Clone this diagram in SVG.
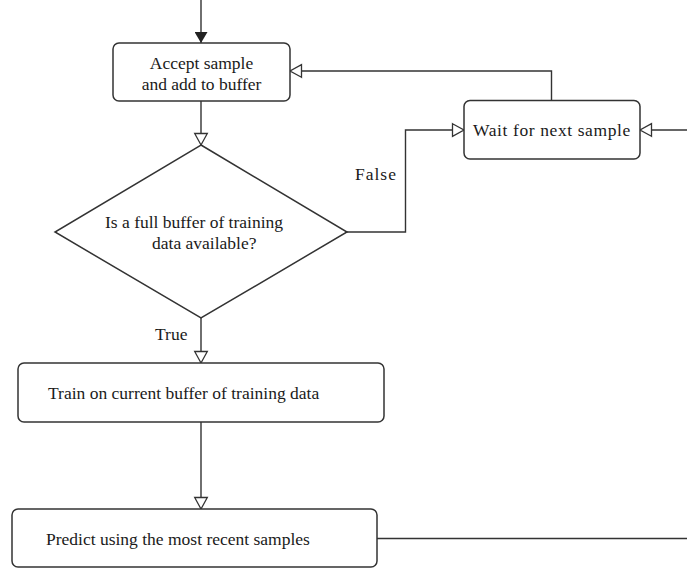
<svg xmlns="http://www.w3.org/2000/svg" width="687" height="568" viewBox="0 0 687 568">
<style>
.box{fill:#fff;stroke:#333;stroke-width:1.5}
.ln{fill:none;stroke:#333;stroke-width:1.4}
text{font-family:"Liberation Serif","Times New Roman",serif;font-size:17.5px;fill:#1a1a1a}
</style>
<defs>
<marker id="open" viewBox="0 0 12 14" refX="12" refY="7" markerWidth="12" markerHeight="14" orient="auto" markerUnits="userSpaceOnUse" overflow="visible">
<path d="M0.5,0.7 L12,7 L0.5,13.3 Z" fill="#fff" stroke="#333" stroke-width="1.3"/>
</marker>
<marker id="filled" viewBox="0 0 11 13" refX="11" refY="6.5" markerWidth="11" markerHeight="13" orient="auto" markerUnits="userSpaceOnUse">
<path d="M0,0 L11,6.5 L0,13 Z" fill="#222"/>
</marker>
</defs>
<g id="connectors">
<line class="ln" x1="201" y1="0" x2="201" y2="43" marker-end="url(#filled)"/>
<line class="ln" x1="201" y1="101" x2="201" y2="145" marker-end="url(#open)"/>
<line class="ln" x1="201" y1="318" x2="201" y2="363" marker-end="url(#open)"/>
<line class="ln" x1="201" y1="422" x2="201" y2="509" marker-end="url(#open)"/>
<line class="ln" x1="377" y1="538.5" x2="687" y2="538.5"/>
<polyline class="ln" points="347,232 405.5,232 405.5,130 464,130" marker-end="url(#open)"/>
<polyline class="ln" points="551.5,100 551.5,71 290,71" marker-end="url(#open)"/>
<line class="ln" x1="687" y1="130" x2="640" y2="130" marker-end="url(#open)"/>
<text x="355" y="180" letter-spacing="1">False</text>
<text x="155" y="340">True</text>
</g>
<g id="accept">
<rect class="box" x="113" y="43" width="177" height="58" rx="6"/>
<text x="201.5" y="69" text-anchor="middle">Accept sample</text>
<text x="201.5" y="90" text-anchor="middle">and add to buffer</text>
</g>
<g id="decision">
<polygon class="box" points="201,145 347,232 201,318 55,232"/>
<text x="105" y="228">Is a full buffer of training</text>
<text x="152" y="249">data available?</text>
</g>
<g id="wait">
<rect class="box" x="464" y="100.5" width="176" height="58.5" rx="6"/>
<text x="473" y="136" letter-spacing="0.6">Wait for next sample</text>
</g>
<g id="train">
<rect class="box" x="18" y="363" width="366" height="59" rx="6"/>
<text x="48" y="399">Train on current buffer of training data</text>
</g>
<g id="predict">
<rect class="box" x="12" y="509" width="365" height="58" rx="6"/>
<text x="46" y="545">Predict using the most recent samples</text>
</g>
</svg>
